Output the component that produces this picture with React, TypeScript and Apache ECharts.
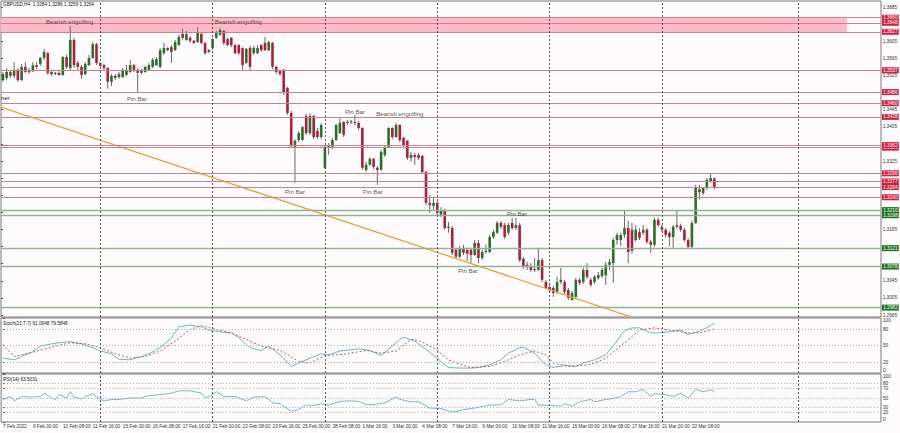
import React, { useEffect, useRef } from "react";
import * as echarts from "echarts";

// ---------- DATA ----------
const OPEN = [
  1.3514, 1.3519, 1.3533, 1.3524, 1.3538, 1.3514, 1.3545, 1.3533, 1.3535, 1.3549,
  1.3552, 1.3566, 1.3577, 1.3533, 1.3528, 1.3531, 1.3526, 1.3568, 1.3542, 1.3608,
  1.3554, 1.3545, 1.3528, 1.3549, 1.3566, 1.3598, 1.3554, 1.3549, 1.3542, 1.3510,
  1.3524, 1.3521, 1.3521, 1.3526, 1.3533, 1.3549, 1.3538, 1.3531, 1.3533, 1.3538,
  1.3545, 1.3549, 1.3545, 1.3577, 1.3584, 1.3591, 1.3584, 1.3596, 1.3622, 1.3608,
  1.3613, 1.3606, 1.3603, 1.3622, 1.3601, 1.3580, 1.3589, 1.3613, 1.3620, 1.3629,
  1.3610, 1.3613, 1.3596, 1.3596, 1.3589, 1.3554, 1.3589, 1.3577, 1.3577, 1.3596,
  1.3601, 1.3584, 1.3601, 1.3545, 1.3535, 1.3538, 1.3496, 1.3437, 1.3358, 1.3374,
  1.3374, 1.3430, 1.3390, 1.3430, 1.3395, 1.3381, 1.3309, 1.3358, 1.3358, 1.3374,
  1.3390, 1.3416, 1.3414, 1.3416, 1.3416, 1.3414, 1.3402, 1.3304, 1.3316, 1.3330,
  1.3309, 1.3304, 1.3339, 1.3358, 1.3402, 1.3381, 1.3409, 1.3379, 1.3372, 1.3332,
  1.3339, 1.3339, 1.3337, 1.3299, 1.3227, 1.3220, 1.3227, 1.3199, 1.3210, 1.3168,
  1.3168, 1.3117, 1.3101, 1.3122, 1.3117, 1.3117, 1.3105, 1.3133, 1.3098, 1.3112,
  1.3112, 1.3147, 1.3157, 1.3180, 1.3175, 1.3157, 1.3180, 1.3168, 1.3175, 1.3096,
  1.3082, 1.3079, 1.3072, 1.3070, 1.3093, 1.3042, 1.3030, 1.3028, 1.3019, 1.3042,
  1.3042, 1.3023, 1.3000, 1.3007, 1.3047, 1.3042, 1.3070, 1.3047, 1.3042, 1.3051,
  1.3056, 1.3058, 1.3082, 1.3086, 1.3140, 1.3140, 1.3152, 1.3168, 1.3164, 1.3140,
  1.3159, 1.3157, 1.3164, 1.3136, 1.3129, 1.3187, 1.3171, 1.3164, 1.3157, 1.3147,
  1.3175, 1.3173, 1.3164, 1.3140, 1.3124, 1.3180, 1.3259, 1.3250, 1.3262, 1.3278,
  1.3284,
];
const CLOSE = [
  1.3528, 1.3533, 1.3524, 1.3538, 1.3514, 1.3545, 1.3533, 1.3538, 1.3549, 1.3545,
  1.3566, 1.3580, 1.3531, 1.3528, 1.3531, 1.3526, 1.3568, 1.3545, 1.3608, 1.3549,
  1.3545, 1.3526, 1.3552, 1.3566, 1.3598, 1.3554, 1.3547, 1.3542, 1.3510, 1.3524,
  1.3519, 1.3528, 1.3538, 1.3538, 1.3549, 1.3538, 1.3531, 1.3538, 1.3545, 1.3549,
  1.3561, 1.3563, 1.3584, 1.3589, 1.3589, 1.3580, 1.3603, 1.3615, 1.3613, 1.3622,
  1.3606, 1.3601, 1.3624, 1.3601, 1.3577, 1.3584, 1.3610, 1.3624, 1.3631, 1.3601,
  1.3596, 1.3596, 1.3577, 1.3577, 1.3549, 1.3587, 1.3545, 1.3589, 1.3589, 1.3584,
  1.3584, 1.3603, 1.3545, 1.3533, 1.3528, 1.3484, 1.3437, 1.3360, 1.3372, 1.3390,
  1.3404, 1.3390, 1.3430, 1.3381, 1.3381, 1.3409, 1.3358, 1.3362, 1.3374, 1.3409,
  1.3414, 1.3386, 1.3416, 1.3418, 1.3414, 1.3402, 1.3309, 1.3316, 1.3330, 1.3311,
  1.3304, 1.3346, 1.3355, 1.3402, 1.3381, 1.3409, 1.3374, 1.3362, 1.3332, 1.3339,
  1.3334, 1.3332, 1.3299, 1.3227, 1.3222, 1.3227, 1.3203, 1.3210, 1.3168, 1.3171,
  1.3110, 1.3101, 1.3119, 1.3110, 1.3108, 1.3105, 1.3133, 1.3098, 1.3112, 1.3115,
  1.3147, 1.3159, 1.3180, 1.3171, 1.3147, 1.3175, 1.3168, 1.3175, 1.3093, 1.3077,
  1.3077, 1.3070, 1.3070, 1.3093, 1.3047, 1.3028, 1.3023, 1.3016, 1.3042, 1.3047,
  1.3019, 1.3005, 1.3016, 1.3047, 1.3040, 1.3070, 1.3054, 1.3035, 1.3054, 1.3058,
  1.3070, 1.3082, 1.3089, 1.3140, 1.3152, 1.3152, 1.3168, 1.3112, 1.3115, 1.3164,
  1.3145, 1.3164, 1.3136, 1.3129, 1.3187, 1.3175, 1.3164, 1.3152, 1.3147, 1.3171,
  1.3171, 1.3164, 1.3140, 1.3124, 1.3180, 1.3262, 1.3252, 1.3262, 1.3281, 1.3285,
  1.3264,
];
const LOW = [
  1.3510, 1.3514, 1.3519, 1.3519, 1.3510, 1.3512, 1.3531, 1.3528, 1.3533, 1.3540,
  1.3547, 1.3561, 1.3526, 1.3524, 1.3526, 1.3524, 1.3524, 1.3540, 1.3538, 1.3542,
  1.3538, 1.3517, 1.3526, 1.3547, 1.3564, 1.3549, 1.3545, 1.3538, 1.3494, 1.3500,
  1.3514, 1.3517, 1.3519, 1.3524, 1.3531, 1.3533, 1.3484, 1.3528, 1.3531, 1.3535,
  1.3542, 1.3547, 1.3542, 1.3573, 1.3582, 1.3554, 1.3582, 1.3594, 1.3608, 1.3606,
  1.3601, 1.3598, 1.3601, 1.3598, 1.3573, 1.3577, 1.3584, 1.3610, 1.3617, 1.3596,
  1.3594, 1.3591, 1.3575, 1.3573, 1.3538, 1.3552, 1.3535, 1.3573, 1.3575, 1.3580,
  1.3582, 1.3582, 1.3540, 1.3528, 1.3524, 1.3479, 1.3433, 1.3355, 1.3274, 1.3369,
  1.3372, 1.3386, 1.3386, 1.3376, 1.3376, 1.3376, 1.3306, 1.3339, 1.3353, 1.3372,
  1.3388, 1.3381, 1.3409, 1.3411, 1.3409, 1.3397, 1.3304, 1.3299, 1.3313, 1.3306,
  1.3269, 1.3302, 1.3334, 1.3355, 1.3376, 1.3379, 1.3369, 1.3358, 1.3327, 1.3323,
  1.3316, 1.3327, 1.3295, 1.3222, 1.3203, 1.3210, 1.3199, 1.3194, 1.3164, 1.3157,
  1.3105, 1.3098, 1.3098, 1.3105, 1.3091, 1.3084, 1.3103, 1.3086, 1.3093, 1.3108,
  1.3110, 1.3143, 1.3154, 1.3166, 1.3143, 1.3152, 1.3164, 1.3164, 1.3089, 1.3072,
  1.3070, 1.3065, 1.3065, 1.3068, 1.3042, 1.3026, 1.3019, 1.3007, 1.3014, 1.3037,
  1.3014, 1.3000, 1.2998, 1.3005, 1.3035, 1.3037, 1.3049, 1.3030, 1.3037, 1.3047,
  1.3051, 1.3035, 1.3070, 1.3040, 1.3129, 1.3126, 1.3145, 1.3086, 1.3108, 1.3136,
  1.3140, 1.3152, 1.3131, 1.3110, 1.3124, 1.3171, 1.3159, 1.3145, 1.3126, 1.3122,
  1.3166, 1.3159, 1.3136, 1.3119, 1.3119, 1.3178, 1.3234, 1.3245, 1.3257, 1.3274,
  1.3259,
];
const HIGH = [
  1.3533, 1.3542, 1.3538, 1.3556, 1.3542, 1.3552, 1.3556, 1.3542, 1.3556, 1.3556,
  1.3568, 1.3587, 1.3580, 1.3538, 1.3533, 1.3535, 1.3570, 1.3573, 1.3641, 1.3613,
  1.3559, 1.3549, 1.3556, 1.3573, 1.3603, 1.3601, 1.3556, 1.3552, 1.3545, 1.3528,
  1.3528, 1.3533, 1.3542, 1.3549, 1.3561, 1.3552, 1.3542, 1.3540, 1.3547, 1.3554,
  1.3566, 1.3568, 1.3589, 1.3601, 1.3591, 1.3596, 1.3608, 1.3620, 1.3634, 1.3629,
  1.3617, 1.3608, 1.3638, 1.3624, 1.3603, 1.3587, 1.3613, 1.3629, 1.3636, 1.3631,
  1.3613, 1.3615, 1.3598, 1.3598, 1.3591, 1.3589, 1.3594, 1.3594, 1.3596, 1.3598,
  1.3615, 1.3606, 1.3603, 1.3547, 1.3538, 1.3540, 1.3498, 1.3442, 1.3376, 1.3395,
  1.3407, 1.3435, 1.3437, 1.3433, 1.3402, 1.3414, 1.3360, 1.3367, 1.3379, 1.3411,
  1.3426, 1.3418, 1.3421, 1.3421, 1.3433, 1.3418, 1.3404, 1.3323, 1.3334, 1.3332,
  1.3313, 1.3351, 1.3360, 1.3404, 1.3404, 1.3414, 1.3411, 1.3381, 1.3374, 1.3346,
  1.3344, 1.3344, 1.3339, 1.3302, 1.3245, 1.3241, 1.3231, 1.3217, 1.3213, 1.3182,
  1.3173, 1.3122, 1.3126, 1.3129, 1.3122, 1.3122, 1.3140, 1.3140, 1.3117, 1.3129,
  1.3152, 1.3164, 1.3185, 1.3185, 1.3180, 1.3180, 1.3192, 1.3192, 1.3180, 1.3100,
  1.3089, 1.3086, 1.3098, 1.3122, 1.3098, 1.3047, 1.3035, 1.3033, 1.3054, 1.3075,
  1.3047, 1.3028, 1.3021, 1.3051, 1.3051, 1.3075, 1.3086, 1.3051, 1.3058, 1.3065,
  1.3075, 1.3089, 1.3096, 1.3145, 1.3157, 1.3157, 1.3210, 1.3185, 1.3180, 1.3175,
  1.3168, 1.3175, 1.3168, 1.3140, 1.3192, 1.3192, 1.3175, 1.3168, 1.3161, 1.3175,
  1.3210, 1.3178, 1.3168, 1.3145, 1.3185, 1.3269, 1.3269, 1.3264, 1.3285, 1.3295,
  1.3286,
];

// horizontal levels
const RES_LEVELS = [1.366, 1.3648, 1.3627, 1.3537, 1.3486, 1.346, 1.3428, 1.3356, 1.3362, 1.3296, 1.3277, 1.3264, 1.324];
const SUP_LEVELS = [1.321, 1.3198, 1.3121, 1.3078, 1.2982];
const ZONE = [1.366, 1.3624];
const ZONE_END_BAR = 225.4;
const TREND = [[-0.5, 1.3451], [172, 1.2948]];
const SEPARATORS = [26, 56, 86, 116, 146, 176, 212.4];

const ANNOTATIONS = [
  { bar: 17.8, price: 1.365, text: "Bearish engulfing" },
  { bar: 62.9, price: 1.365, text: "Bearish engulfing" },
  { bar: 35.8, price: 1.347, text: "Pin Bar" },
  { bar: 78, price: 1.3253, text: "Pin Bar" },
  { bar: 94, price: 1.344, text: "Pin Bar" },
  { bar: 106, price: 1.3435, text: "Bearish engulfing" },
  { bar: 98.8, price: 1.3253, text: "Pin Bar" },
  { bar: 137.3, price: 1.3203, text: "Pin Bar" },
  { bar: 124.2, price: 1.3068, text: "Pin Bar" },
];

const STOCH_MAIN = [
  [0, 27], [3, 24], [5, 30], [8, 39], [10, 49], [13, 53], [15, 55], [18, 57], [21, 53], [23, 49],
  [26, 40], [29, 35], [31, 25], [34, 24], [37, 30], [39, 35], [42, 46], [45, 64], [47, 84], [50, 87],
  [53, 84], [55, 78], [58, 75], [61, 73], [63, 64], [66, 46], [69, 41], [71, 49], [74, 33], [77, 12],
  [79, 18], [82, 27], [85, 35], [87, 33], [90, 40], [95, 44], [98, 41], [101, 32], [103, 43], [106, 61],
  [107, 65], [110, 58], [113, 43], [117, 21], [119, 10], [122, 9], [125, 9], [127, 10], [130, 15], [133, 24],
  [135, 36], [138, 46], [139, 47], [142, 36], [145, 15], [147, 10], [150, 14], [153, 12], [155, 18], [158, 24],
  [161, 33], [163, 49], [166, 77], [168, 82], [170, 82], [173, 73], [175, 73], [178, 75], [181, 78], [183, 70],
  [186, 76], [189, 86], [190, 91],
];
const STOCH_SIGNAL = [
  [0, 52], [3, 30], [7, 36], [13, 47], [18, 55], [22, 53], [26, 46], [30, 35], [34, 27], [38, 30],
  [42, 40], [46, 58], [50, 79], [53, 86], [57, 79], [61, 73], [65, 61], [69, 49], [74, 41], [79, 21],
  [82, 18], [86, 32], [91, 34], [97, 41], [101, 36], [105, 40], [109, 61], [111, 59], [115, 46], [119, 24],
  [122, 16], [125, 10], [130, 12], [134, 21], [138, 33], [142, 40], [145, 33], [147, 18], [151, 12], [157, 15],
  [161, 27], [165, 49], [170, 78], [174, 82], [178, 78], [183, 73], [186, 73], [190, 80],
];
const RSI = [
  [0, 47], [2, 53], [3, 44], [5, 53], [7, 52], [10, 53], [11, 60], [13, 50], [14, 47], [15, 57],
  [17, 50], [18, 63], [19, 52], [21, 48], [22, 53], [24, 59], [25, 52], [27, 44], [29, 47], [31, 47],
  [34, 50], [37, 50], [39, 55], [42, 57], [45, 60], [47, 65], [50, 65], [53, 60], [54, 50], [56, 57],
  [57, 63], [59, 53], [62, 53], [65, 44], [67, 52], [70, 53], [72, 40], [74, 38], [77, 22], [79, 26],
  [81, 36], [82, 33], [85, 38], [87, 35], [90, 43], [93, 44], [95, 43], [97, 36], [99, 36], [102, 40],
  [105, 52], [106, 47], [109, 42], [111, 42], [114, 29], [117, 28], [119, 23], [121, 21], [123, 26], [126, 29],
  [127, 31], [130, 35], [133, 36], [135, 47], [138, 44], [141, 47], [142, 47], [143, 35], [146, 35], [149, 33],
  [150, 38], [152, 33], [154, 42], [157, 47], [158, 42], [161, 47], [163, 49], [165, 53], [167, 63], [169, 63],
  [171, 68], [173, 53], [174, 59], [177, 57], [179, 53], [181, 60], [183, 50], [185, 68], [187, 63], [189, 67],
  [190, 64],
];
const STOCH_LEVELS = [20, 50, 80];
const RSI_LEVELS = [20, 30, 50, 70, 80];
const STOCH_TICKS = [0, 20, 50, 80, 100];
const RSI_TICKS = [0, 20, 30, 50, 70, 80, 100];

const TIME_TICKS: [number, string][] = [
  [0, "7 Feb 2022"], [8, "9 Feb 00:00"], [16, "10 Feb 08:00"], [24, "11 Feb 16:00"], [32, "15 Feb 00:00"],
  [40, "16 Feb 08:00"], [48, "17 Feb 16:00"], [56, "21 Feb 00:00"], [64, "22 Feb 08:00"], [72, "23 Feb 16:00"],
  [80, "25 Feb 00:00"], [88, "28 Feb 08:00"], [96, "1 Mar 16:00"], [104, "3 Mar 00:00"], [112, "4 Mar 08:00"],
  [120, "7 Mar 16:00"], [128, "9 Mar 00:00"], [136, "10 Mar 08:00"], [144, "11 Mar 16:00"], [152, "15 Mar 00:00"],
  [160, "16 Mar 08:00"], [168, "17 Mar 16:00"], [176, "21 Mar 00:00"], [184, "22 Mar 08:00"],
];

const N_SLOTS = 235;

// ---------- STYLE ----------
const FONT = "'Liberation Sans', Arial, sans-serif";
const BG = "#fdfbfb";
const BULL = "#2a6d2c";
const BEAR = "#a8213f";
const WICK = "#6a6a6a";
const RES_LINE = "#c6828f";
const SUP_LINE = "#93b293";
const RES_BOX = "#d4203f";
const SUP_BOX = "#1b741f";
const SEP_STYLE = { type: [2, 2], color: "#555", width: 1 };
const AX_FS = 4.7;

export default function App() {
  const ref = useRef<HTMLDivElement>(null);

  useEffect(() => {
    if (!ref.current) return;
    const chart = echarts.init(ref.current, null, { renderer: "svg" });

    const cats = Array.from({ length: N_SLOTS }, (_, i) => String(i));
    const candles = CLOSE.map((c, i) => [i, OPEN[i], c, LOW[i], HIGH[i]]);
    const timeMap: Record<number, string> = {};
    TIME_TICKS.forEach(([i, s]) => (timeMap[i] = s));
    const allLevels = [...RES_LEVELS, ...SUP_LEVELS];
    // price tick labels hidden behind a level's price box
    const hiddenTick = (v: number) => allLevels.some((l) => Math.abs(l - v) <= 0.00081);

    const levelLabel = (box: string) => ({
      show: true,
      position: "end",
      distance: 1,
      formatter: (p: any) => Number(p.value).toFixed(4),
      color: "#fff",
      backgroundColor: box,
      fontSize: AX_FS,
      fontFamily: FONT,
      padding: [0.5, 1.2, 0.5, 1.2],
      lineHeight: 5,
    });

    const sepLines = SEPARATORS.map((v) => ({ xAxis: v, lineStyle: SEP_STYLE, label: { show: false } }));

    const option: any = {
      animation: false,
      backgroundColor: BG,
      textStyle: { fontFamily: FONT },
      grid: [
        { left: 1, top: 1, width: 880, height: 316, show: true, borderColor: "#7a7a7a", borderWidth: 1, backgroundColor: "transparent" },
        { left: 1, top: 7, width: 880, height: 308, show: false },
        { left: 1, top: 318, width: 880, height: 55, show: true, borderColor: "#7a7a7a", borderWidth: 1, backgroundColor: "transparent" },
        { left: 1, top: 374, width: 880, height: 48, show: true, borderColor: "#7a7a7a", borderWidth: 1, backgroundColor: "transparent" },
      ],
      xAxis: [
        { type: "category", gridIndex: 0, data: cats, boundaryGap: true, show: false },
        { type: "value", gridIndex: 0, min: -0.5, max: N_SLOTS - 0.5, show: false },
        { type: "value", gridIndex: 2, min: -0.5, max: N_SLOTS - 0.5, show: false },
        {
          type: "value", gridIndex: 3, min: -0.5, max: N_SLOTS - 0.5,
          axisLine: { show: false }, axisTick: { show: false }, splitLine: { show: false },
          axisLabel: {
            customValues: TIME_TICKS.map((t) => t[0]),
            formatter: (v: number) => timeMap[Math.round(v)] ?? "",
            align: "left", fontSize: AX_FS, color: "#333", margin: 2, fontFamily: FONT,
          },
        },
        { type: "value", gridIndex: 1, min: 0, max: 1, show: false },
      ],
      yAxis: [
        { type: "value", gridIndex: 0, min: 1.296, max: 1.3699, show: false },
        {
          type: "value", gridIndex: 1, position: "right", min: 1.2965, max: 1.3685, interval: 0.004,
          axisLine: { show: false }, splitLine: { show: false },
          axisTick: { show: true, length: 2, lineStyle: { color: "#555" } },
          axisLabel: {
            fontSize: AX_FS, color: "#333", margin: 2, fontFamily: FONT,
            formatter: (v: number) => (hiddenTick(v) ? "" : v.toFixed(4)),
          },
        },
        {
          type: "value", gridIndex: 2, position: "right", min: 0, max: 100,
          axisLine: { show: false }, splitLine: { show: false },
          axisTick: { show: true, length: 2, customValues: STOCH_TICKS, lineStyle: { color: "#555" } },
          axisLabel: { customValues: STOCH_TICKS, fontSize: AX_FS, color: "#333", margin: 2, fontFamily: FONT,
            verticalAlignMaxLabel: "top", verticalAlignMinLabel: "bottom" },
        },
        {
          type: "value", gridIndex: 3, position: "right", min: 0, max: 100,
          axisLine: { show: false }, splitLine: { show: false },
          axisTick: { show: true, length: 2, customValues: RSI_TICKS, lineStyle: { color: "#555" } },
          axisLabel: { customValues: RSI_TICKS, fontSize: AX_FS, color: "#333", margin: 2, fontFamily: FONT,
            verticalAlignMaxLabel: "top", verticalAlignMinLabel: "bottom" },
        },
      ],
      series: [
        {
          type: "custom",
          name: "GBPUSD",
          xAxisIndex: 0,
          yAxisIndex: 0,
          data: candles,
          encode: { x: 0, y: [1, 2, 3, 4] },
          clip: true,
          z: 3,
          renderItem: (params: any, api: any) => {
            const i = api.value(0);
            const o = api.value(1), c = api.value(2), l = api.value(3), h = api.value(4);
            const pO = api.coord([i, o]);
            const pC = api.coord([i, c]);
            const pL = api.coord([i, l]);
            const pH = api.coord([i, h]);
            const w = 2.6;
            const x = pO[0];
            const top = Math.min(pO[1], pC[1]);
            const hh = Math.max(Math.abs(pO[1] - pC[1]), 1);
            return {
              type: "group",
              children: [
                { type: "line", shape: { x1: x, y1: pH[1], x2: x, y2: pL[1] }, style: { stroke: WICK, lineWidth: 1 } },
                { type: "rect", shape: { x: x - w / 2, y: top, width: w, height: hh }, style: { fill: c >= o ? BULL : BEAR } },
              ],
            };
          },
        },
        {
          type: "line",
          name: "trend",
          xAxisIndex: 1,
          yAxisIndex: 0,
          data: TREND,
          symbol: "none",
          clip: true,
          z: 4,
          lineStyle: { color: "#eea33a", width: 1.3 },
          markArea: {
            silent: true,
            itemStyle: { color: "#ffb9c6" },
            data: [[{ xAxis: -0.5, yAxis: ZONE[0] }, { xAxis: ZONE_END_BAR, yAxis: ZONE[1] }]],
          },
          markLine: {
            silent: true,
            precision: 4,
            symbol: ["none", "none"],
            data: [
              ...RES_LEVELS.map((v) => ({ yAxis: v, lineStyle: { color: RES_LINE, width: 1, type: "solid" }, label: levelLabel(RES_BOX) })),
              ...SUP_LEVELS.map((v) => ({ yAxis: v, lineStyle: { color: SUP_LINE, width: 1.3, type: "solid" }, label: levelLabel(SUP_BOX) })),
              ...sepLines,
            ],
          },
        },
        {
          type: "scatter",
          name: "notes",
          xAxisIndex: 1,
          yAxisIndex: 0,
          symbolSize: 1,
          z: 6,
          itemStyle: { color: "transparent" },
          data: ANNOTATIONS.map((a) => ({
            value: [a.bar, a.price],
            label: { show: true, position: "inside", formatter: a.text, color: "#2a2a2a", fontSize: 6.1, fontFamily: FONT },
          })),
        },
        {
          type: "line",
          name: "stoch main",
          xAxisIndex: 2,
          yAxisIndex: 2,
          data: STOCH_MAIN,
          symbol: "none",
          z: 4,
          lineStyle: { color: "#5bbfc3", width: 1 },
          markLine: {
            silent: true,
            precision: 4,
            symbol: ["none", "none"],
            data: [
              ...STOCH_LEVELS.map((v) => ({ yAxis: v, lineStyle: { type: [1, 2], color: "#aaaaaa", width: 1 }, label: { show: false } })),
              ...sepLines,
            ],
          },
        },
        {
          type: "line",
          name: "stoch signal",
          xAxisIndex: 2,
          yAxisIndex: 2,
          data: STOCH_SIGNAL,
          symbol: "none",
          z: 4,
          lineStyle: { color: "#cf5063", width: 1, type: [2, 2] },
        },
        {
          type: "line",
          name: "rsi",
          xAxisIndex: 3,
          yAxisIndex: 3,
          data: RSI,
          symbol: "none",
          z: 4,
          lineStyle: { color: "#78b4dc", width: 1 },
          markLine: {
            silent: true,
            precision: 4,
            symbol: ["none", "none"],
            data: [
              ...RSI_LEVELS.map((v) => ({ yAxis: v, lineStyle: { type: [1, 2], color: "#aaaaaa", width: 1 }, label: { show: false } })),
              ...sepLines,
            ],
          },
        },
      ],
      graphic: [
        { type: "text", x: 3, y: 2, style: { text: "GBPUSD,H4  1.3284 1.3286 1.3259 1.3264", fontSize: AX_FS, fill: "#222", fontFamily: FONT, verticalAlign: "top" } },
        { type: "text", x: 1, y: 94, style: { text: "ner", fontSize: 6.1, fill: "#2a2a2a", fontFamily: FONT, verticalAlign: "top" } },
        { type: "text", x: 3, y: 321, style: { text: "Stoch(21,7,7) 91.0948 79.5848", fontSize: AX_FS, fill: "#222", fontFamily: FONT, verticalAlign: "top" } },
        { type: "text", x: 3, y: 377, style: { text: "RSI(14) 63.5031", fontSize: AX_FS, fill: "#222", fontFamily: FONT, verticalAlign: "top" } },
      ],
    };

    chart.setOption(option);
    return () => chart.dispose();
  }, []);

  return (
    <div
      ref={ref}
      style={{ position: "fixed", left: 0, top: 0, width: 900, height: 433, background: BG }}
    />
  );
}
